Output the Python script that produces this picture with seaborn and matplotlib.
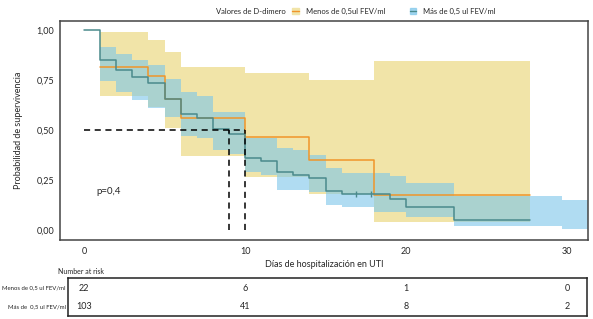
import numpy as np
import pandas as pd
import matplotlib
matplotlib.use("Agg")
import matplotlib.pyplot as plt
import seaborn as sns
from matplotlib.patches import Patch
from matplotlib.lines import Line2D

# Kaplan-Meier curves
GROUPS = ["Menos de 0,5ul FEV/ml", "Más de 0,5 ul FEV/ml"]

low_t = [1, 4, 5, 6, 10, 14, 18, 27.7]
low_s = [0.815, 0.77, 0.655, 0.56, 0.465, 0.35, 0.175, 0.175]

high_t = [0, 1, 2, 3, 4, 5, 6, 7, 8, 9, 10, 11, 12, 13, 14, 15, 16, 19, 20, 23, 27.7]
high_s = [1.0, 0.85, 0.80, 0.765, 0.735, 0.655, 0.58, 0.56, 0.505, 0.48, 0.36,
          0.345, 0.29, 0.275, 0.26, 0.195, 0.18, 0.155, 0.115, 0.05, 0.05]
high_censor_t = [16.9, 17.8]
high_censor_s = [0.18, 0.18]

# confidence bands
low_ci_t = [1, 4, 5, 6, 10, 14, 18, 27.7]
low_ci_hi = [0.99, 0.95, 0.89, 0.815, 0.785, 0.75, 0.845, 0.845]
low_ci_lo = [0.67, 0.615, 0.51, 0.37, 0.265, 0.18, 0.04, 0.04]

high_ci_t = [1, 2, 3, 4, 5, 6, 7, 8, 9, 10, 11, 12, 13, 14, 15, 16, 18, 19, 20, 23, 29.7, 31.3]
high_ci_hi = [0.915, 0.88, 0.85, 0.825, 0.755, 0.69, 0.67, 0.59, 0.59, 0.46, 0.46,
              0.41, 0.40, 0.375, 0.31, 0.285, 0.285, 0.27, 0.235, 0.17, 0.15, 0.15]
high_ci_lo = [0.745, 0.69, 0.65, 0.61, 0.565, 0.47, 0.46, 0.40, 0.38, 0.29, 0.275,
              0.20, 0.20, 0.19, 0.125, 0.115, 0.09, 0.09, 0.065, 0.02, 0.005, 0.005]

medians = [9, 10]

# number at risk table
risk_days = [0, 10, 20, 30]
risk_low = [22, 6, 1, 0]
risk_high = [103, 41, 8, 2]

YTICKS = [0.0, 0.25, 0.5, 0.75, 1.0]
YTICK_LABELS = ["0,00", "0,25", "0,50", "0,75", "1,00"]
XTICKS = [0, 10, 20, 30]

ORANGE = "#f0952a"
TEAL = "#4a8a8c"
YELLOW_FILL = "#f1e4a8"
BLUE_FILL = "#7cc6ea"

sns.set_style("white")
plt.rcParams["font.family"] = ["Lato", "DejaVu Sans"]
plt.rcParams["font.size"] = 6.5

df = pd.concat([
    pd.DataFrame({"t": low_t, "s": low_s, "grupo": GROUPS[0]}),
    pd.DataFrame({"t": high_t, "s": high_s, "grupo": GROUPS[1]}),
])

fig = plt.figure(figsize=(5.93, 3.19), dpi=100)
ax = fig.add_axes([60 / 593, 1 - 240 / 319, 528 / 593, 219 / 319])

ax.fill_between(low_ci_t, low_ci_lo, low_ci_hi, step="post", color=YELLOW_FILL,
                lw=0, zorder=1)
ax.fill_between(high_ci_t, high_ci_lo, high_ci_hi, step="post", color=BLUE_FILL,
                alpha=0.6, lw=0, zorder=2)

sns.lineplot(data=df, x="t", y="s", hue="grupo", palette=[ORANGE, TEAL],
             estimator=None, drawstyle="steps-post", lw=1.1, legend=False,
             ax=ax, zorder=3)
ax.plot(high_censor_t, high_censor_s, ls="none", marker="|", ms=4, color=TEAL, zorder=4)

# median lines
ax.plot([0, max(medians)], [0.5, 0.5], ls=(0, (4, 3)), color="black", lw=1.1, zorder=5)
for m in medians:
    ax.plot([m, m], [0, 0.5], ls=(0, (4, 3)), color="black", lw=1.1, zorder=5)

ax.text(0.8, 0.195, "p=0,4", fontsize=7, va="center", ha="left")

ax.set_xlim(-1.49, 31.3)
ax.set_ylim(-0.05, 1.045)
ax.set_xticks(XTICKS)
ax.set_yticks(YTICKS)
ax.set_yticklabels(YTICK_LABELS)
ax.tick_params(axis="y", length=2, pad=2, labelsize=6.5, color="#333333")
ax.tick_params(axis="x", length=0, pad=5, labelsize=6.5)
ax.set_xlabel("Días de hospitalización en UTI", fontsize=6.5, labelpad=3)
ax.set_ylabel("Probabilidad de supervivencia", fontsize=6.5, labelpad=10)
for sp in ax.spines.values():
    sp.set_color("#444444")
    sp.set_linewidth(1.1)

# legend
fig.text(286 / 593, 1 - 11 / 319, "Valores de D-dimero", ha="right", va="center", fontsize=5.5)
handles = [
    (Patch(color=YELLOW_FILL), Line2D([], [], color=ORANGE, lw=1)),
    (Patch(color=BLUE_FILL, alpha=0.7), Line2D([], [], color=TEAL, lw=1)),
]
fig.legend(handles, GROUPS, loc="center left", bbox_to_anchor=(292 / 593, 1 - 11 / 319),
           ncol=2, frameon=False, fontsize=5.5, handlelength=0.9, handleheight=0.8,
           columnspacing=3.2, handletextpad=0.9, borderpad=0, borderaxespad=0)

# number at risk
fig.text(58 / 593, 1 - 271 / 319, "Number at risk", ha="left", va="center", fontsize=5)
tab = fig.add_axes([68 / 593, 1 - 316 / 319, 519 / 593, 38 / 319])
tab.set_xlim((68 - 84) / 16.1, (587 - 84) / 16.1)
tab.set_ylim(0, 1)
tab.set_xticks([])
tab.set_yticks([])
for sp in tab.spines.values():
    sp.set_color("#222222")
    sp.set_linewidth(1.1)
for d, a, b in zip(risk_days, risk_low, risk_high):
    tab.text(d, 0.72, str(a), ha="center", va="center", fontsize=6.5)
    tab.text(d, 0.25, str(b), ha="center", va="center", fontsize=6.5)
fig.text(66 / 593, 1 - 288 / 319, "Menos de 0,5 ul FEV/ml", ha="right", va="center", fontsize=4.3)
fig.text(66 / 593, 1 - 307 / 319, "Más de  0,5 ul FEV/ml", ha="right", va="center", fontsize=4.3)

fig.savefig("out.png", dpi=100)
